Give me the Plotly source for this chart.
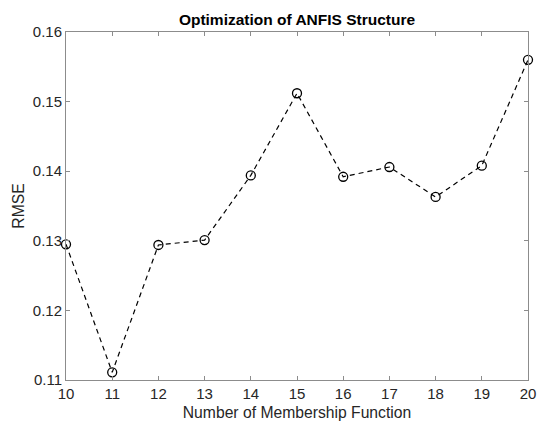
import plotly.graph_objects as go

num_mf = [10, 11, 12, 13, 14, 15, 16, 17, 18, 19, 20]
rmse = [0.1295, 0.1111, 0.1294, 0.1301, 0.1394, 0.1512, 0.1392, 0.1406, 0.1363, 0.1408, 0.1560]
x_ticks = list(range(10, 21))
y_ticks = [0.11, 0.12, 0.13, 0.14, 0.15, 0.16]

fig = go.Figure()
fig.add_trace(go.Scatter(
    x=num_mf, y=rmse, mode="lines+markers",
    line=dict(color="black", width=1.2, dash="5px,4px"),
    marker=dict(symbol="circle-open", size=9, color="black", line=dict(width=1.3, color="black")),
    showlegend=False, cliponaxis=False,
))

axis_common = dict(
    showgrid=False, zeroline=False, showline=True, linecolor="#8c8c8c", linewidth=1,
    mirror="ticks", ticks="inside", ticklen=4, tickcolor="#8c8c8c", automargin=False,
    tickfont=dict(family="Liberation Sans, Arial", size=15, color="#262626"),
)
fig.update_xaxes(range=[10, 20], tickvals=x_ticks, ticktext=[str(v) for v in x_ticks],
                 title=dict(text="Number of Membership Function", standoff=6,
                            font=dict(family="Liberation Sans, Arial", size=15.7, color="#262626")),
                 **axis_common)
fig.update_yaxes(range=[0.11, 0.16], tickvals=y_ticks, ticktext=[f"{v:.2f}" for v in y_ticks],
                 title=dict(text="RMSE", standoff=4,
                            font=dict(family="Liberation Sans, Arial", size=15.7, color="#262626")),
                 **axis_common)
fig.update_layout(
    width=537, height=423,
    margin=dict(l=66, r=9, t=32, b=43),
    paper_bgcolor="white", plot_bgcolor="white",
    title=dict(text="<b>Optimization of ANFIS Structure</b>", x=0.5, xref="paper", y=0.953, yanchor="middle",
               font=dict(family="Liberation Sans, Arial", size=15.5, color="black")),
)
fig.write_html("out.html")
